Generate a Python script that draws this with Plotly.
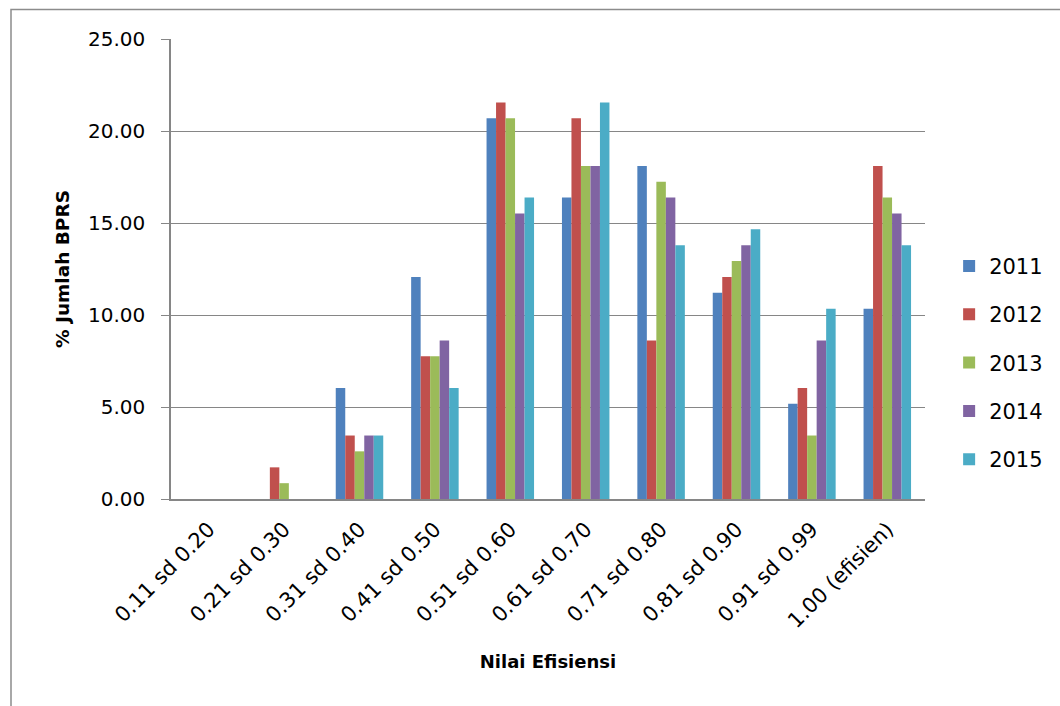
import plotly.graph_objects as go

categories = ["0.11 sd 0.20", "0.21 sd 0.30", "0.31 sd 0.40", "0.41 sd 0.50",
              "0.51 sd 0.60", "0.61 sd 0.70", "0.71 sd 0.80", "0.81 sd 0.90",
              "0.91 sd 0.99", "1.00 (efisien)"]

years = ["2011", "2012", "2013", "2014", "2015"]

pct_2011 = [0.00, 0.00, 6.03, 12.07, 20.69, 16.38, 18.10, 11.21, 5.17, 10.34]
pct_2012 = [0.00, 1.72, 3.45, 7.76, 21.55, 20.69, 8.62, 12.07, 6.03, 18.10]
pct_2013 = [0.00, 0.86, 2.59, 7.76, 20.69, 18.10, 17.24, 12.93, 3.45, 16.38]
pct_2014 = [0.00, 0.00, 3.45, 8.62, 15.52, 18.10, 16.38, 13.79, 8.62, 15.52]
pct_2015 = [0.00, 0.00, 3.45, 6.03, 16.38, 21.55, 13.79, 14.66, 10.34, 13.79]

series = [pct_2011, pct_2012, pct_2013, pct_2014, pct_2015]
colors = ["#4F81BD", "#C0504D", "#9BBB59", "#8064A2", "#4BACC6"]

y_ticks = [0, 5, 10, 15, 20, 25]
y_ticklabels = ["0.00", "5.00", "10.00", "15.00", "20.00", "25.00"]

FONT = "'DejaVu Sans', sans-serif"

fig = go.Figure()
for name, vals, col in zip(years, series, colors):
    fig.add_trace(go.Bar(
        x=categories, y=vals, name=name, legendgroup=name,
        marker=dict(color=col, line=dict(width=0)),
    ))

fig.update_layout(
    width=1060, height=706,
    margin=dict(l=171, r=135, t=39, b=207, autoexpand=False),
    paper_bgcolor="white", plot_bgcolor="white",
    barmode="group", bargap=0.37, bargroupgap=0.0,
    font=dict(family=FONT, size=20, color="black"),
    showlegend=True,
    legend=dict(
        x=1.032, y=0.296, xanchor="left", yanchor="middle",
        font=dict(family=FONT, size=21, color="black"),
        tracegroupgap=18, itemwidth=30,
        bgcolor="rgba(0,0,0,0)",
    ),
    xaxis=dict(
        tickangle=-45, showgrid=False, showline=True,
        linecolor="#868686", linewidth=1.5,
        ticks="", tickfont=dict(size=21), ticklabelstandoff=8,
        title=dict(text="<b>Nilai Efisiensi</b>", font=dict(size=18), standoff=24),
    ),
    yaxis=dict(
        range=[0, 25], tickvals=y_ticks, ticktext=y_ticklabels,
        showgrid=True, gridcolor="#868686", gridwidth=1.3,
        showline=True, linecolor="#868686", linewidth=1.5,
        ticks="outside", ticklen=8, tickcolor="#868686", tickwidth=1.3,
        tickfont=dict(size=20), ticklabelstandoff=12,
        title=dict(text="<b>% Jumlah BPRS</b>", font=dict(size=18.5), standoff=14),
        zeroline=False,
    ),
    shapes=[dict(
        type="rect", xref="paper", yref="paper",
        x0=-0.2122, x1=1.3, y0=-0.5, y1=1.0641,
        line=dict(color="#8C8C8C", width=1.5), fillcolor="rgba(0,0,0,0)",
        layer="below",
    )],
)

fig.write_html("out.html")
